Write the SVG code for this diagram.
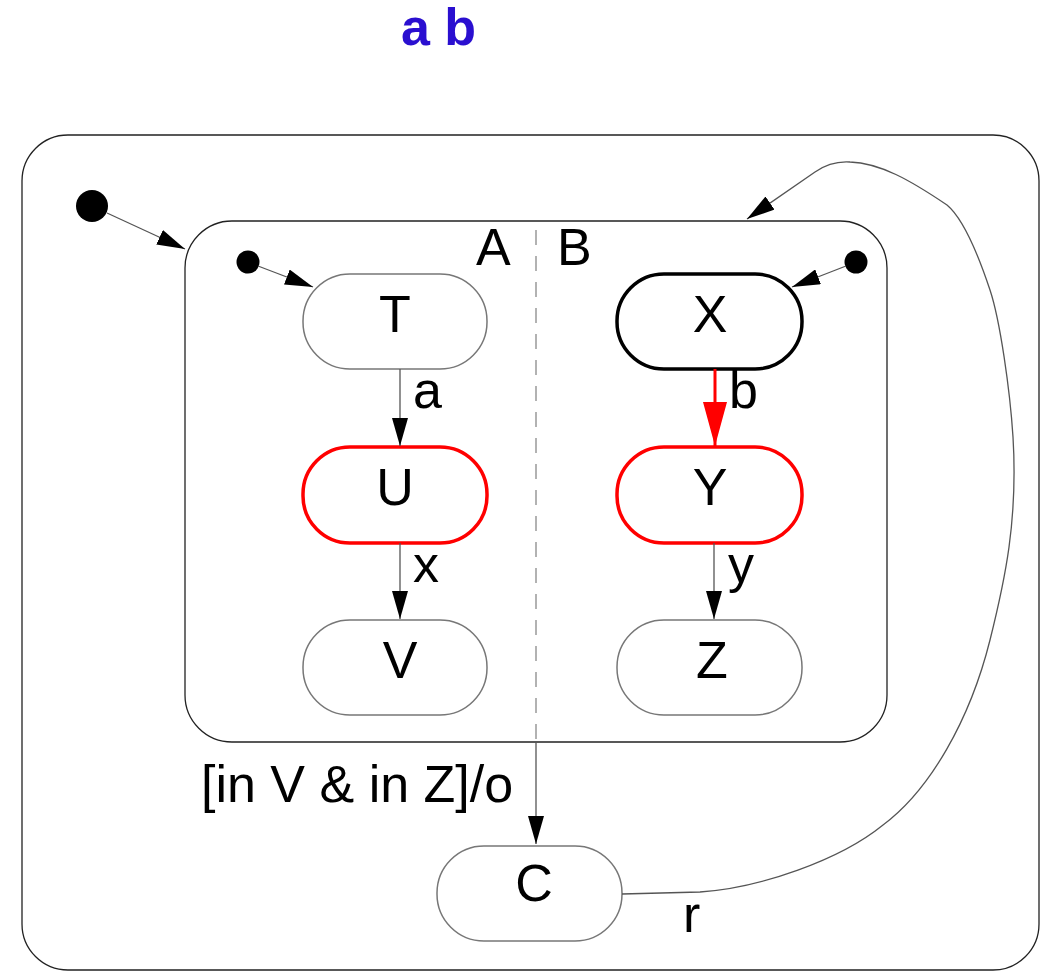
<svg xmlns="http://www.w3.org/2000/svg" width="1044" height="971" viewBox="0 0 1044 971">
<style>
.lbl{font-family:"Liberation Sans",Arial,sans-serif;font-size:52px;fill:#000}
.st{fill:#fff;stroke:#777;stroke-width:1.5}
.red{fill:#fff;stroke:#f00;stroke-width:3.5}
.tr{fill:none;stroke:#555;stroke-width:1.3}
.box{fill:#fff;stroke:#222;stroke-width:1.3}
</style>
<defs>
<marker id="ah" markerUnits="userSpaceOnUse" markerWidth="30" markerHeight="16" refX="28" refY="8" orient="auto">
<path d="M0,0 L28,8 L0,16 z" fill="#000"/>
</marker>
<marker id="ahr" markerUnits="userSpaceOnUse" markerWidth="46" markerHeight="24" refX="44" refY="12" orient="auto">
<path d="M0,0 L44,12 L0,24 z" fill="#f00"/>
</marker>
</defs>
<text x="401" y="45" style="font-family:'Liberation Sans',Arial,sans-serif;font-size:52px;font-weight:bold;fill:#2a0fd0">a b</text>
<g id="outer"><rect class="box" x="22" y="135" width="1017" height="835" rx="46"/></g>
<g id="inner"><rect class="box" x="185" y="221" width="702" height="521" rx="47"/>
<line x1="536" y1="230" x2="536" y2="742" stroke="#999" stroke-width="1.5" stroke-dasharray="15 11"/>
<text class="lbl" x="476" y="265">A</text><text class="lbl" x="557" y="265">B</text></g>
<g id="init0"><circle cx="92" cy="206" r="16" fill="#000"/></g>
<g id="initA"><circle cx="248" cy="262" r="11.5" fill="#000"/></g>
<g id="initB"><circle cx="856" cy="262" r="11.5" fill="#000"/></g>
<g id="T"><rect class="st" x="303" y="274" width="184" height="95" rx="47"/><text class="lbl" x="395" y="332" text-anchor="middle">T</text></g>
<g id="U"><rect class="red" x="303" y="447" width="184" height="96" rx="47"/><text class="lbl" x="395" y="505" text-anchor="middle">U</text></g>
<g id="V"><rect class="st" x="303" y="620" width="184" height="95" rx="47"/><text class="lbl" x="400" y="678" text-anchor="middle">V</text></g>
<g id="X"><rect x="617" y="274" width="185" height="95" rx="47" fill="#fff" stroke="#000" stroke-width="3.5"/><text class="lbl" x="710" y="332" text-anchor="middle">X</text></g>
<g id="Y"><rect class="red" x="617" y="447" width="185" height="96" rx="47"/><text class="lbl" x="710" y="505" text-anchor="middle">Y</text></g>
<g id="Z"><rect class="st" x="617" y="620" width="185" height="95" rx="47"/><text class="lbl" x="712" y="678" text-anchor="middle">Z</text></g>
<g id="C"><rect class="st" x="437" y="846" width="185" height="95" rx="47"/><text class="lbl" x="534" y="901" text-anchor="middle">C</text></g>
<g id="connectors">
<line class="tr" x1="107" y1="213" x2="185" y2="249" stroke="#000" marker-end="url(#ah)"/>
<line class="tr" x1="258" y1="266" x2="313" y2="287" marker-end="url(#ah)"/>
<line class="tr" x1="846" y1="266" x2="792" y2="287" marker-end="url(#ah)"/>
<line class="tr" x1="400" y1="369" x2="400" y2="446" marker-end="url(#ah)"/>
<line class="tr" x1="400" y1="543" x2="400" y2="619" marker-end="url(#ah)"/>
<line class="tr" x1="714" y1="543" x2="714" y2="619" marker-end="url(#ah)"/>
<line x1="715" y1="369" x2="715" y2="446" stroke="#f00" stroke-width="3" marker-end="url(#ahr)"/>
<line class="tr" x1="536" y1="742" x2="536" y2="844" marker-end="url(#ah)"/>
<path class="tr" stroke="#111" d="M622,894 L700,892 C760,888 840,860 883,825 C930,790 970,720 990,640 C1005,580 1018,520 1013,437 C1010,390 1000,320 990,290 C980,260 965,220 947,205 C910,180 880,163 850,162 C835,161 825,165 815,172 L747,219" marker-end="url(#ah)"/>
<text class="lbl" x="413" y="408">a</text>
<text class="lbl" x="729" y="408">b</text>
<text class="lbl" x="413" y="582">x</text>
<text class="lbl" x="728" y="582">y</text>
<text class="lbl" x="201" y="802">[in V &amp; in Z]/o</text>
<text class="lbl" x="683" y="932">r</text>
</g>
</svg>
